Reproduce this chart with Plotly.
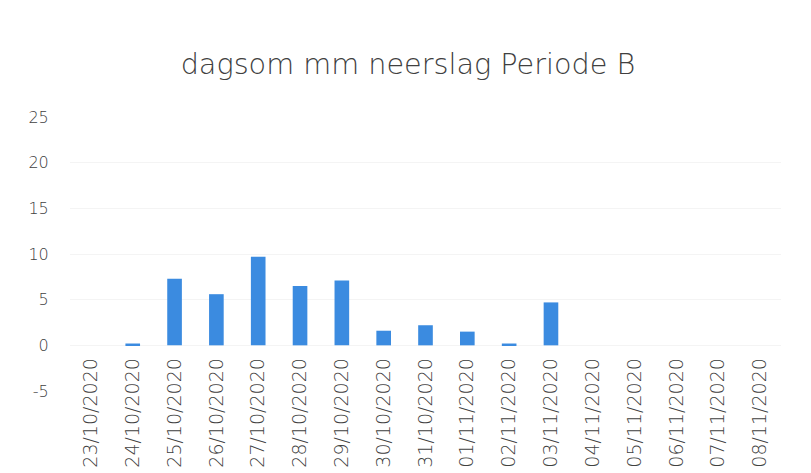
import plotly.graph_objects as go

dates = ["23/10/2020", "24/10/2020", "25/10/2020", "26/10/2020", "27/10/2020",
         "28/10/2020", "29/10/2020", "30/10/2020", "31/10/2020", "01/11/2020",
         "02/11/2020", "03/11/2020", "04/11/2020", "05/11/2020", "06/11/2020",
         "07/11/2020", "08/11/2020"]
neerslag = [0, 0.2, 7.3, 5.6, 9.7, 6.5, 7.1, 1.6, 2.2, 1.5, 0.2, 4.7, 0, 0, 0, 0, 0]
y_ticks = [-5, 0, 5, 10, 15, 20, 25]

text_color = "#404040"

fig = go.Figure(go.Bar(
    x=dates, y=neerslag,
    marker=dict(color="#3b8be0", line=dict(width=0)),
    width=0.35,
))

fig.update_layout(
    width=811, height=473,
    paper_bgcolor="white", plot_bgcolor="white",
    margin=dict(l=62, r=38, t=109, b=90),
    showlegend=False,
    title=dict(text="dagsom mm neerslag Periode B", x=400 / 811, xanchor="center",
               y=1 - 56 / 473, yanchor="middle",
               font=dict(family="DejaVu Sans", size=28.7, weight=200, color=text_color)),
    font=dict(family="DejaVu Sans", color=text_color),
)

fig.update_xaxes(
    type="category", range=[-0.5, 16.5],
    anchor="free", position=5 / 30,
    tickangle=-90,
    tickfont=dict(family="DejaVu Sans", size=19, weight=200, color=text_color),
    showline=False, showgrid=False, ticks="", ticklen=0,
    ticklabelstandoff=8, ticklabelshift=0,
    automargin=False,
)
fig.update_yaxes(
    range=[-5, 25], tickvals=y_ticks, ticktext=[str(v) for v in y_ticks],
    tickfont=dict(family="DejaVu Sans", size=16, weight=200, color=text_color),
    showgrid=True, gridcolor="#f4f4f4", gridwidth=1,
    zeroline=False, showline=False, ticks="outside", ticklen=17,
    tickcolor="rgba(0,0,0,0)",
    automargin=False,
)

fig.write_html("out.html")
